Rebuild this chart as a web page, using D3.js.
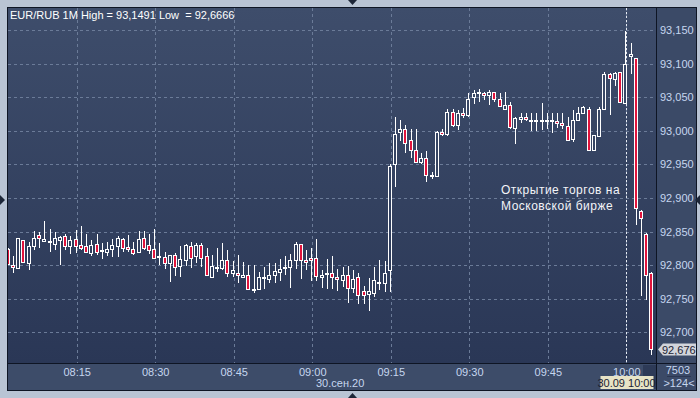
<!DOCTYPE html>
<html>
<head>
<meta charset="utf-8">
<script src="https://cdnjs.cloudflare.com/ajax/libs/d3/7.8.5/d3.min.js"></script>
<style>
body { margin: 0; background: #b9c4d4; }
text { font-family: "Liberation Sans", Arial, sans-serif; }
</style>
</head>
<body>
<div id="my_dataviz"></div>
<script>
// one candle per minute, first one at 08:02
var symbol = "EUR/RUB 1M"
var startTime = "2020-09-30 08:02"
var opens = [92.824, 92.801, 92.796, 92.837, 92.804, 92.828, 92.845, 92.836, 92.834, 92.831,
    92.838, 92.844, 92.829, 92.839, 92.830, 92.829, 92.818, 92.831, 92.823, 92.819,
    92.824, 92.828, 92.839, 92.827, 92.824, 92.819, 92.841, 92.830, 92.824, 92.813,
    92.812, 92.803, 92.815, 92.799, 92.808, 92.828, 92.814, 92.830, 92.813, 92.783,
    92.796, 92.796, 92.808, 92.788, 92.789, 92.783, 92.785, 92.765, 92.764, 92.782,
    92.780, 92.785, 92.790, 92.798, 92.798, 92.808, 92.831, 92.808, 92.811, 92.810,
    92.782, 92.789, 92.789, 92.782, 92.778, 92.785, 92.766, 92.782, 92.761, 92.757,
    92.759, 92.775, 92.774, 92.793, 92.950, 92.998, 93.002, 92.987, 92.971, 92.954,
    92.960, 92.933, 92.932, 92.998, 92.995, 93.028, 93.009, 93.026, 93.024, 93.051,
    93.056, 93.056, 93.053, 93.057, 93.047, 93.033, 93.038, 93.004, 93.017, 93.021,
    93.015, 93.015, 93.015, 93.015, 93.015, 93.014, 93.011, 93.007, 92.988, 93.016,
    93.027, 93.033, 92.971, 92.993, 93.032, 93.084, 93.077, 93.087, 93.041, 93.111,
    93.108, 92.881, 92.847, 92.789]
var highs = [92.826, 92.814, 92.841, 92.838, 92.835, 92.851, 92.849, 92.866, 92.854, 92.850,
    92.843, 92.846, 92.843, 92.853, 92.858, 92.846, 92.837, 92.846, 92.833, 92.834,
    92.839, 92.843, 92.841, 92.845, 92.834, 92.851, 92.851, 92.847, 92.854, 92.833,
    92.819, 92.815, 92.818, 92.828, 92.831, 92.834, 92.833, 92.833, 92.826, 92.815,
    92.826, 92.833, 92.823, 92.806, 92.815, 92.805, 92.801, 92.800, 92.790, 92.798,
    92.803, 92.803, 92.809, 92.814, 92.817, 92.835, 92.832, 92.823, 92.825, 92.839,
    92.793, 92.809, 92.813, 92.794, 92.798, 92.799, 92.793, 92.789, 92.769, 92.781,
    92.798, 92.807, 92.806, 92.950, 93.021, 93.016, 93.009, 93.002, 93.002, 92.967,
    92.970, 92.939, 92.999, 93.003, 93.032, 93.032, 93.031, 93.034, 93.056, 93.061,
    93.062, 93.058, 93.060, 93.058, 93.056, 93.058, 93.043, 93.021, 93.026, 93.027,
    93.027, 93.027, 93.041, 93.026, 93.027, 93.026, 93.027, 93.021, 93.031, 93.036,
    93.037, 93.035, 92.994, 93.035, 93.088, 93.086, 93.088, 93.088, 93.1491, 93.130,
    93.109, 92.882, 92.848, 92.790]
var lows = [92.800, 92.788, 92.795, 92.804, 92.793, 92.823, 92.826, 92.834, 92.820, 92.823,
    92.801, 92.823, 92.816, 92.818, 92.822, 92.818, 92.813, 92.815, 92.809, 92.814,
    92.812, 92.812, 92.820, 92.819, 92.815, 92.818, 92.823, 92.817, 92.810, 92.801,
    92.794, 92.775, 92.784, 92.782, 92.799, 92.796, 92.803, 92.798, 92.784, 92.783,
    92.790, 92.793, 92.782, 92.782, 92.774, 92.782, 92.763, 92.759, 92.763, 92.765,
    92.774, 92.774, 92.776, 92.785, 92.766, 92.795, 92.780, 92.793, 92.776, 92.776,
    92.766, 92.764, 92.765, 92.762, 92.768, 92.744, 92.759, 92.742, 92.742, 92.732,
    92.752, 92.763, 92.760, 92.760, 92.917, 92.985, 92.967, 92.959, 92.952, 92.951,
    92.924, 92.928, 92.931, 92.992, 92.993, 93.005, 93.001, 93.019, 93.021, 93.040,
    93.043, 93.046, 93.039, 93.043, 93.035, 93.032, 93.002, 92.980, 93.012, 93.014,
    93.000, 92.999, 93.001, 93.002, 92.997, 93.004, 93.002, 92.985, 92.984, 93.014,
    93.026, 92.970, 92.970, 92.991, 93.031, 93.023, 93.066, 93.042, 93.040, 93.085,
    92.860, 92.754, 92.748, 92.6666]
var closes = [92.802, 92.797, 92.840, 92.805, 92.828, 92.841, 92.840, 92.839, 92.836, 92.840,
    92.842, 92.829, 92.838, 92.829, 92.826, 92.820, 92.830, 92.820, 92.821, 92.824,
    92.830, 92.841, 92.826, 92.824, 92.818, 92.839, 92.825, 92.822, 92.811, 92.812,
    92.804, 92.815, 92.798, 92.809, 92.830, 92.811, 92.830, 92.811, 92.785, 92.799,
    92.797, 92.808, 92.789, 92.793, 92.785, 92.786, 92.764, 92.764, 92.782, 92.781,
    92.786, 92.791, 92.795, 92.797, 92.807, 92.832, 92.808, 92.805, 92.808, 92.784,
    92.785, 92.788, 92.783, 92.779, 92.786, 92.766, 92.780, 92.756, 92.755, 92.761,
    92.778, 92.774, 92.789, 92.948, 92.995, 93.002, 92.982, 92.971, 92.954, 92.959,
    92.934, 92.934, 92.998, 92.995, 93.028, 93.009, 93.027, 93.024, 93.048, 93.056,
    93.057, 93.053, 93.057, 93.048, 93.037, 93.038, 93.005, 93.019, 93.021, 93.017,
    93.016, 93.016, 93.016, 93.016, 93.016, 93.012, 93.008, 92.986, 93.016, 93.026,
    93.035, 92.971, 92.994, 93.032, 93.085, 93.078, 93.086, 93.043, 93.100, 93.114,
    92.885, 92.870, 92.785, 92.676]

// axis ticks
var priceTicks = [92.70, 92.75, 92.80, 92.85, 92.90, 92.95, 93.00, 93.05, 93.10, 93.15]
var timeTicks = ["08:15", "08:30", "08:45", "09:00", "09:15", "09:30", "09:45", "10:00"]
var dateLabel = "30.сен.20"
var crossTime = "10:00"
var crossLabel = "30.09 10:00"
var volumeLabel = "7503"
var countLabel = ">124<"
var noteLines = ["Открытие торгов на", "Московской бирже"]

var width = 700
var height = 398
var plotL = 8, plotT = 8, plotR = 656, plotB = 363

var svg = d3.select("#my_dataviz")
    .append("svg")
    .attr("width", width)
    .attr("height", height)
    .style("display", "block")

var parse = d3.timeParse("%Y-%m-%d %H:%M")
var day = "2020-09-30 "
var t0 = parse(startTime)
var data = opens.map(function(o, i) {
    return { t: d3.timeMinute.offset(t0, i), o: o, h: highs[i], l: lows[i], c: closes[i] }
})

var x = d3.scaleTime()
    .domain([parse(day + "08:15"), parse(day + "10:00")])
    .range([76.7, 626.3])
var y = d3.scaleLinear()
    .domain([92.70, 93.15])
    .range([332.4, 30])

var ru = d3.formatLocale({ decimal: ",", thousands: " ", grouping: [3], currency: ["", ""] })
var fmt3 = ru.format(".3f")
var fmt4 = ru.format(".4f")

// background gradient
var defs = svg.append("defs")
var grad = defs.append("linearGradient").attr("id", "bg")
    .attr("gradientUnits", "userSpaceOnUse")
    .attr("x1", 0).attr("y1", plotT).attr("x2", 0).attr("y2", plotB)
grad.append("stop").attr("offset", 0).attr("stop-color", "#3e4d6b")
grad.append("stop").attr("offset", 1).attr("stop-color", "#2a3756")
defs.append("clipPath").attr("id", "clip")
    .append("rect").attr("x", plotL).attr("y", plotT).attr("width", plotR - plotL).attr("height", plotB - plotT)

// frame and panels
svg.append("rect").attr("width", width).attr("height", height).style("fill", "#b9c4d4")
svg.append("rect").attr("x", 7).attr("y", 7).attr("width", 690).attr("height", 384).style("fill", "#0e1524")
svg.append("rect").attr("x", plotL).attr("y", plotT).attr("width", plotR - plotL).attr("height", plotB - plotT).style("fill", "url(#bg)")
svg.append("rect").attr("x", 657).attr("y", plotT).attr("width", 39).attr("height", plotB - plotT).style("fill", "#3b4a67")
svg.append("rect").attr("x", plotL).attr("y", 364).attr("width", plotR - plotL).attr("height", 26).style("fill", "#3d4c69")
svg.append("rect").attr("x", 657).attr("y", 364).attr("width", 39).attr("height", 26).style("fill", "#3b4a67")
svg.append("rect").attr("x", 643).attr("y", 365).attr("width", 13).attr("height", 24).style("fill", "#2d3a57")

// little splitter arrows on the outer border
var arrows = [[[348, 0], [357, 0], [352.5, 5]], [[348, 398], [357, 398], [352.5, 393]],
    [[0, 195], [0, 205], [5, 200]], [[700, 195], [700, 205], [695, 200]]]
svg.selectAll(".arrow").data(arrows).enter().append("path")
    .attr("d", function(d) { return "M" + d.join("L") + "Z" })
    .style("fill", "#1d2638")

// grid
var grid = svg.append("g").attr("clip-path", "url(#clip)")
grid.selectAll(".hgrid").data(priceTicks).enter().append("line")
    .attr("x1", plotL).attr("x2", plotR)
    .attr("y1", function(d) { return Math.round(y(d)) + 0.5 })
    .attr("y2", function(d) { return Math.round(y(d)) + 0.5 })
    .style("stroke", "#6b7b98").style("stroke-dasharray", "3,3")
grid.selectAll(".vgrid").data(timeTicks).enter().append("line")
    .attr("x1", function(d) { return Math.round(x(parse(day + d))) + 0.5 })
    .attr("x2", function(d) { return Math.round(x(parse(day + d))) + 0.5 })
    .attr("y1", plotT).attr("y2", plotB)
    .style("stroke", "#6b7b98").style("stroke-dasharray", "3,3")

// crosshair at 10:00
var cx = Math.round(x(parse(day + crossTime))) + 0.5
svg.append("line").attr("x1", cx).attr("x2", cx).attr("y1", plotT).attr("y2", plotB)
    .style("stroke", "#e6eaf2").style("stroke-dasharray", "2,2")

// candles
var candles = svg.append("g").attr("clip-path", "url(#clip)")
    .selectAll("g").data(data).enter().append("g")
candles.append("line")
    .attr("x1", function(d) { return Math.round(x(d.t)) - 0.5 })
    .attr("x2", function(d) { return Math.round(x(d.t)) - 0.5 })
    .attr("y1", function(d) { return Math.round(y(d.h)) })
    .attr("y2", function(d) { return Math.round(y(d.l)) })
    .style("stroke", "#ffffff")
candles.append("rect")
    .attr("x", function(d) { return Math.round(x(d.t)) - 2.5 })
    .attr("y", function(d) { return Math.round(y(Math.max(d.o, d.c))) + 0.5 })
    .attr("width", 3)
    .attr("height", function(d) { return Math.max(1, Math.round(y(Math.min(d.o, d.c))) - Math.round(y(Math.max(d.o, d.c)))) })
    .style("fill", function(d) { return d.c < d.o ? "#e0143c" : "url(#bg)" })
    .style("stroke", "#ffffff")

// price axis
var yAxis = svg.append("g").attr("transform", "translate(657,0)")
    .call(d3.axisRight(y).tickValues(priceTicks).tickSize(0).tickPadding(3).tickFormat(fmt3))
yAxis.select(".domain").remove()
yAxis.selectAll("text").style("font-size", "11px").style("fill", "#c6d6ef").attr("font-family", null)

// time axis
var xAxis = svg.append("g").attr("transform", "translate(0," + plotB + ")")
    .call(d3.axisBottom(x).tickValues(timeTicks.map(function(d) { return parse(day + d) }))
        .tickSize(0).tickPadding(5).tickFormat(d3.timeFormat("%H:%M")))
xAxis.select(".domain").remove()
xAxis.selectAll("text").style("font-size", "11px").style("fill", "#c6d6ef").attr("font-family", null)
svg.append("text").attr("x", 316).attr("y", 387).text(dateLabel)
    .style("font-size", "11px").style("fill", "#c6d6ef")

// crosshair time label
svg.append("rect").attr("x", cx - 26).attr("y", 376).attr("width", 53).attr("height", 13).style("fill", "#e7e3c6")
svg.append("text").attr("x", cx).attr("y", 386.5).attr("text-anchor", "middle").text(crossLabel)
    .style("font-size", "11px").style("fill", "#1b2232")

// last price tag
var lp = Math.round(y(closes[closes.length - 1]))
svg.append("path").attr("d", "M658," + (lp + 0.5) + "L663," + (lp - 5.5) + "L696," + (lp - 5.5) + "L696," + (lp + 6.5) + "L663," + (lp + 6.5) + "Z")
    .style("fill", "#d2d5db")
svg.append("text").attr("x", 662).attr("y", lp + 4.5).text(fmt3(closes[closes.length - 1]))
    .style("font-size", "11px").style("fill", "#1b2232")

// corner counters
svg.append("text").attr("x", 678).attr("y", 374).attr("text-anchor", "middle").text(volumeLabel)
    .style("font-size", "11px").style("fill", "#c6d6ef")
svg.append("line").attr("x1", 667).attr("x2", 691).attr("y1", 376.5).attr("y2", 376.5).style("stroke", "#2b3752")
svg.append("text").attr("x", 679).attr("y", 387).attr("text-anchor", "middle").text(countLabel)
    .style("font-size", "11px").style("fill", "#c6d6ef")

// title
svg.append("text").attr("x", 10).attr("y", 19)
    .text(symbol + " High = " + fmt4(d3.max(highs)) + " Low  = " + fmt4(d3.min(lows)))
    .style("font-size", "11px").style("fill", "#ffffff").style("white-space", "pre")

// note
svg.selectAll(".note").data(noteLines).enter().append("text")
    .attr("x", 501).attr("y", function(d, i) { return 194 + i * 16 })
    .text(function(d) { return d })
    .style("font-size", "12px").style("letter-spacing", "0.5px").style("fill", "#f2f4f8")
</script>
</body>
</html>
